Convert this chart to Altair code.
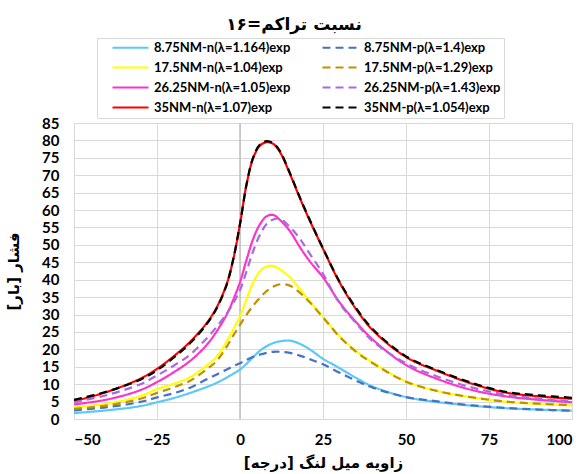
import altair as alt
import pandas as pd

x_deg = [-50, -40, -30, -25, -20, -15, -10, -7, -4, -2, 0, 2, 4, 6, 8, 10, 12, 15, 18, 21, 25, 30, 35, 40, 50, 60, 70, 80, 90, 100]

n8 = [1.7, 2.5, 3.7, 4.8, 6.0, 7.5, 9.2, 10.4, 11.9, 13.0, 14.2, 15.9, 17.8, 19.6, 20.9, 21.8, 22.3, 22.5, 21.6, 20.0, 17.3, 14.6, 11.8, 9.3, 6.3, 4.8, 3.8, 3.1, 2.7, 2.4]
p8 = [2.5, 3.4, 4.9, 6.2, 7.4, 9.0, 11.4, 12.8, 14.2, 15.2, 16.0, 17.0, 17.9, 18.5, 19.0, 19.3, 19.3, 19.0, 18.2, 17.2, 15.7, 13.3, 11.0, 9.0, 6.3, 5.0, 3.9, 3.2, 2.7, 2.4]
n17 = [3.4, 4.4, 6.6, 8.6, 10.1, 12.0, 15.4, 17.9, 22.3, 25.8, 29.5, 34.5, 39.3, 42.4, 43.8, 43.9, 43.0, 40.7, 37.4, 33.8, 29.3, 23.8, 19.5, 16.2, 10.8, 7.9, 6.2, 5.0, 4.3, 3.9]
p17 = [2.9, 3.9, 5.8, 7.5, 9.1, 11.0, 14.3, 16.7, 20.8, 24.0, 27.0, 30.0, 32.6, 34.8, 36.7, 38.0, 38.7, 38.3, 36.3, 33.5, 29.2, 23.6, 19.3, 16.0, 10.7, 7.9, 6.2, 5.0, 4.4, 4.0]
n26 = [4.2, 5.6, 8.3, 10.6, 13.4, 16.7, 21.3, 25.2, 30.0, 34.3, 39.3, 45.8, 51.8, 55.9, 58.2, 58.6, 57.2, 54.0, 49.4, 45.3, 40.7, 33.5, 27.8, 22.8, 15.5, 11.3, 8.3, 6.5, 5.5, 4.8]
p26 = [4.8, 6.9, 10.0, 12.5, 15.3, 18.5, 23.2, 26.5, 30.3, 33.3, 37.0, 42.5, 48.3, 52.9, 56.0, 57.3, 57.5, 55.2, 51.8, 47.5, 41.7, 33.2, 27.5, 22.3, 16.0, 12.0, 9.0, 7.0, 5.8, 5.0]
n35 = [5.1, 7.8, 11.6, 14.4, 18.0, 22.2, 27.6, 32.1, 38.8, 46.0, 56.0, 67.5, 75.0, 78.5, 79.5, 79.0, 76.7, 70.5, 63.5, 57.0, 48.9, 39.2, 31.5, 25.5, 17.8, 13.6, 10.1, 7.6, 6.5, 5.8]
p35 = [5.5, 7.9, 11.3, 14.0, 17.6, 21.8, 27.3, 31.8, 38.6, 46.0, 56.0, 67.5, 75.2, 78.8, 79.8, 79.2, 77.0, 70.7, 63.7, 57.2, 49.0, 39.4, 31.8, 25.8, 18.0, 13.8, 10.3, 7.8, 6.8, 6.1]

names = [
    "8.75NM-n(λ=1.164)exp", "8.75NM-p(λ=1.4)exp",
    "17.5NM-n(λ=1.04)exp", "17.5NM-p(λ=1.29)exp",
    "26.25NM-n(λ=1.05)exp", "26.25NM-p(λ=1.43)exp",
    "35NM-n(λ=1.07)exp", "35NM-p(λ=1.054)exp",
]
series_values = [n8, p8, n17, p17, n26, p26, n35, p35]
colors = ["#5BC9F7", "#4472C4", "#FFFF00", "#BF9000", "#FF33CC", "#A86BDB", "#FF0000", "#000000"]
dashes = [[1, 0], [8, 5], [1, 0], [8, 5], [1, 0], [8, 5], [1, 0], [8, 5]]

x_ticks = [-50, -25, 0, 25, 50, 75, 100]
y_ticks = list(range(0, 90, 5))

rows = []
for i, (nm, vals) in enumerate(zip(names, series_values)):
    for xv, yv in zip(x_deg, vals):
        rows.append({"x": xv, "y": yv, "series": nm, "kind": "n" if i % 2 == 0 else "p", "ord": i})
df = pd.DataFrame(rows)

num_font = "Lato"
fa_font = "DejaVu Sans"

legend = alt.Legend(
    orient="none", legendX=23, legendY=-85, columns=2, direction="horizontal",
    symbolType="stroke", symbolSize=1296, symbolStrokeWidth=2.2,
    symbolOffset=11, labelOffset=4, clipHeight=13, rowPadding=6, columnPadding=19,
    padding=3, strokeColor="#D9D9D9", fillColor="white",
    labelFont=num_font, labelFontWeight="bold", labelFontSize=13, labelColor="#000000",
    labelLimit=300,
)

color_enc = alt.Color("series:N", title=None,
                      scale=alt.Scale(domain=names, range=colors), legend=legend)
dash_enc = alt.StrokeDash("series:N", title=None,
                          scale=alt.Scale(domain=names, range=dashes), legend=legend)

x_enc = alt.X("x:Q", scale=alt.Scale(domain=[-50, 100], nice=False, zero=False),
              axis=alt.Axis(values=x_ticks, grid=True, gridColor="#D9D9D9", ticks=False, domain=False,
                            labelFont=num_font, labelFontWeight="bold", labelFontSize=15, labelColor="#000000",
                            labelPadding=13, title="زاویه میل لنگ [درجه]", titleFont=fa_font,
                            titleFontSize=15, titleFontWeight="bold", titleColor="#000000", titlePadding=8))
y_enc = alt.Y("y:Q", scale=alt.Scale(domain=[0, 85], nice=False),
              axis=alt.Axis(values=y_ticks, grid=True, gridColor="#D9D9D9", ticks=False, domain=False,
                            labelFont=num_font, labelFontWeight="bold", labelFontSize=15, labelColor="#000000",
                            labelPadding=15, title="فشار [بار]", titleFont=fa_font,
                            titleFontSize=15, titleFontWeight="bold", titleColor="#000000", titlePadding=20))

base = alt.Chart(df)
solid = base.transform_filter(alt.datum.kind == "n").mark_line(
    strokeWidth=2.2, interpolate="catmull-rom").encode(
    x=x_enc, y=y_enc, color=color_enc, strokeDash=dash_enc, detail="series:N", order="ord:Q")
dashed = base.transform_filter(alt.datum.kind == "p").mark_line(
    strokeWidth=2.2, interpolate="catmull-rom").encode(
    x=x_enc, y=y_enc, color=color_enc, strokeDash=dash_enc, detail="series:N", order="ord:Q")

zero_rule = alt.Chart(pd.DataFrame({"v": [0]})).mark_rule(color="#BFBFBF", strokeWidth=1.5).encode(
    x=alt.X("v:Q"))

chart = alt.layer(zero_rule, solid, dashed).properties(
    width=498, height=296,
    title=alt.TitleParams("نسبت تراکم=۱۶", anchor="middle", frame="group", dx=-29,
                          font=fa_font, fontSize=17, fontWeight="bold", color="#000000"),
    autosize=alt.AutoSizeParams(type="none"),
    padding={"left": 74, "top": 123, "right": 16, "bottom": 55},
).configure_view(stroke=None).configure(background="white")

chart.save("out.html", embed_options={"renderer": "svg", "actions": False})
